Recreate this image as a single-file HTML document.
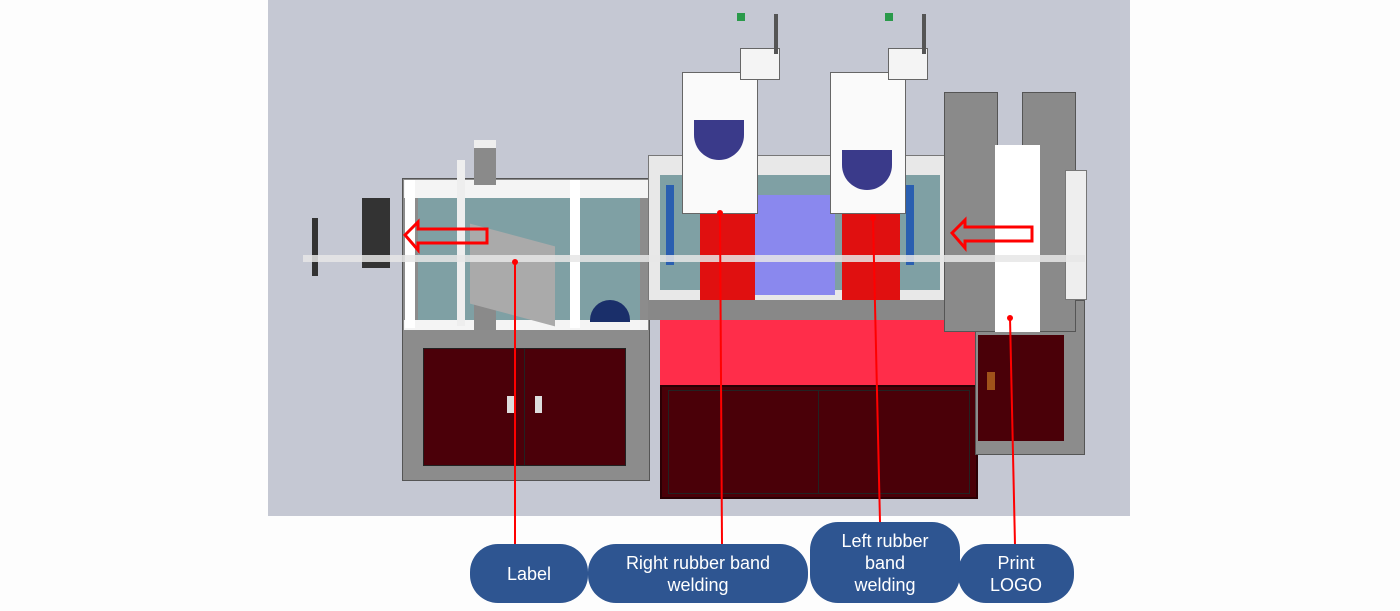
<!DOCTYPE html>
<html><head><style>
body{margin:0;width:1400px;height:611px;background:#fdfdfd;position:relative;overflow:hidden;font-family:"Liberation Sans",sans-serif}
div{position:absolute;box-sizing:border-box}
.p{background:#2e5591;color:#fff;border-radius:28px;display:flex;align-items:center;justify-content:center;text-align:center;font-size:18px;line-height:22px}
.r{background:#f00;width:2px}
</style></head><body>
<div style="left:268px;top:0;width:862px;height:516px;background:#c5c8d3"></div>
<!-- left machine -->
<div style="left:402px;top:178px;width:248px;height:303px;background:#8c8c8c;border:1px solid #555"></div>
<div style="left:404px;top:180px;width:244px;height:18px;background:#f4f4f4"></div>
<div style="left:418px;top:198px;width:222px;height:125px;background:#7fa0a4"></div>
<div style="left:404px;top:320px;width:244px;height:10px;background:#f4f4f4"></div>
<div style="left:423px;top:348px;width:203px;height:118px;background:#4b0009;border:1px solid #222"></div>
<div style="left:524px;top:348px;width:1px;height:118px;background:#222"></div>
<div style="left:507px;top:396px;width:7px;height:17px;background:#ddd"></div>
<div style="left:535px;top:396px;width:7px;height:17px;background:#ddd"></div>
<div style="left:405px;top:180px;width:10px;height:148px;background:#fff"></div>
<div style="left:570px;top:180px;width:10px;height:148px;background:#fff"></div>
<div style="left:457px;top:160px;width:8px;height:166px;background:#eee"></div>
<div style="left:474px;top:140px;width:22px;height:45px;background:#8a8a8a;border-top:8px solid #eee"></div>
<div style="left:474px;top:290px;width:22px;height:40px;background:#8a8a8a"></div>
<div style="left:362px;top:198px;width:28px;height:70px;background:#333"></div>
<div style="left:312px;top:218px;width:6px;height:58px;background:#333"></div>
<div style="left:470px;top:235px;width:85px;height:80px;background:#aaa;transform:skewY(15deg)"></div>
<div style="left:590px;top:300px;width:40px;height:22px;background:#1a2f6a;border-radius:20px 20px 0 0"></div>
<!-- middle -->
<div style="left:648px;top:155px;width:297px;height:150px;background:#e8e8e8;border:1px solid #777"></div>
<div style="left:660px;top:175px;width:280px;height:115px;background:#7fa0a4"></div>
<div style="left:755px;top:195px;width:80px;height:100px;background:#8a88ee"></div>
<div style="left:700px;top:210px;width:55px;height:92px;background:#e01010"></div>
<div style="left:842px;top:210px;width:58px;height:92px;background:#e01010"></div>
<div style="left:666px;top:185px;width:8px;height:80px;background:#2a5fb0"></div>
<div style="left:906px;top:185px;width:8px;height:80px;background:#2a5fb0"></div>
<div style="left:682px;top:72px;width:76px;height:142px;background:#fafafa;border:1px solid #666"></div>
<div style="left:830px;top:72px;width:76px;height:142px;background:#fafafa;border:1px solid #666"></div>
<div style="left:694px;top:120px;width:50px;height:40px;background:#3a3a8a;border-radius:0 0 25px 25px"></div>
<div style="left:842px;top:150px;width:50px;height:40px;background:#3a3a8a;border-radius:0 0 25px 25px"></div>
<div style="left:740px;top:48px;width:40px;height:32px;background:#f4f4f4;border:1px solid #666"></div>
<div style="left:888px;top:48px;width:40px;height:32px;background:#f4f4f4;border:1px solid #666"></div>
<div style="left:774px;top:14px;width:4px;height:40px;background:#555"></div>
<div style="left:922px;top:14px;width:4px;height:40px;background:#555"></div>
<div style="left:737px;top:13px;width:8px;height:8px;background:#2a9a4a"></div>
<div style="left:885px;top:13px;width:8px;height:8px;background:#2a9a4a"></div>
<div style="left:648px;top:300px;width:330px;height:20px;background:#888"></div>
<div style="left:660px;top:320px;width:318px;height:65px;background:#ff2d4a"></div>
<div style="left:660px;top:385px;width:318px;height:114px;background:#4a0008;border:2px solid #2a0004"></div>
<div style="left:668px;top:390px;width:302px;height:104px;border:1px solid #222"></div>
<div style="left:818px;top:390px;width:1px;height:104px;background:#222"></div>
<!-- right -->
<div style="left:975px;top:300px;width:110px;height:155px;background:#8c8c8c;border:1px solid #555"></div>
<div style="left:978px;top:335px;width:86px;height:106px;background:#4a0008"></div>
<div style="left:987px;top:372px;width:8px;height:18px;background:#a0521a"></div>
<div style="left:944px;top:92px;width:54px;height:240px;background:#8a8a8a;border:1px solid #555"></div>
<div style="left:1022px;top:92px;width:54px;height:240px;background:#8a8a8a;border:1px solid #555"></div>
<div style="left:995px;top:145px;width:45px;height:187px;background:#fff"></div>
<div style="left:1065px;top:170px;width:22px;height:130px;background:#eee;border:1px solid #777"></div>
<!-- shaft -->
<div style="left:303px;top:255px;width:782px;height:7px;background:#e6e6e6;opacity:.85"></div>
<!-- arrows -->
<svg style="position:absolute;left:0;top:0" width="1400" height="611">
<polygon points="405,235 418,222 418,229 487,229 487,243 418,243 418,250" fill="none" stroke="#f00" stroke-width="3"/>
<polygon points="952,233 965,220 965,227 1032,227 1032,241 965,241 965,248" fill="none" stroke="#f00" stroke-width="3"/>
<line x1="515" y1="262" x2="515" y2="545" stroke="#f00" stroke-width="2"/>
<line x1="720" y1="213" x2="722" y2="545" stroke="#f00" stroke-width="2"/>
<line x1="873" y1="218" x2="880" y2="522" stroke="#f00" stroke-width="2"/>
<line x1="1010" y1="318" x2="1015" y2="545" stroke="#f00" stroke-width="2"/>
<circle cx="515" cy="262" r="3" fill="#f00"/><circle cx="720" cy="213" r="3" fill="#f00"/><circle cx="873" cy="218" r="3" fill="#f00"/><circle cx="1010" cy="318" r="3" fill="#f00"/>
</svg>
<!-- labels -->
<div class="p" style="left:470px;top:544px;width:118px;height:59px">Label</div>
<div class="p" style="left:588px;top:544px;width:220px;height:59px">Right rubber band<br>welding</div>
<div class="p" style="left:810px;top:522px;width:150px;height:81px">Left rubber<br>band<br>welding</div>
<div class="p" style="left:958px;top:544px;width:116px;height:59px">Print<br>LOGO</div>
</body></html>
